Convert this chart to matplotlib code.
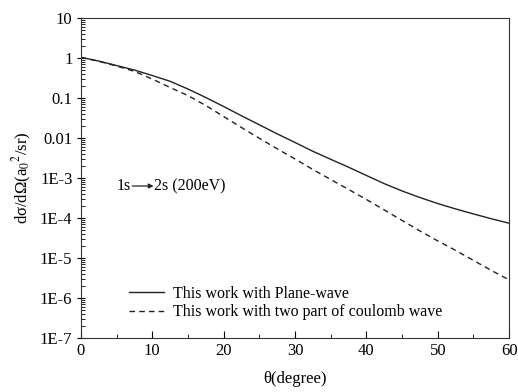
import numpy as np
import matplotlib.pyplot as plt
from matplotlib.ticker import FixedLocator, LogLocator, NullFormatter

plt.rcParams['font.family'] = ['Liberation Serif', 'DejaVu Serif']
plt.rcParams['mathtext.fontset'] = 'stix'

# scattering angle (degree)
theta = [0, 2.5, 5, 7.5, 10, 12.5, 15, 17.5, 20, 22.5, 25, 27.5, 30,
         32.5, 35, 37.5, 40, 42.5, 45, 47.5, 50, 52.5, 55, 57.5, 60]

# 1s -> 2s differential cross sections
plane_wave = [1.04, 0.841, 0.649, 0.501, 0.365, 0.262, 0.168, 0.103, 0.0613,
              0.0359, 0.0214, 0.0127, 7.72e-3, 4.65e-3, 2.93e-3, 1.86e-3,
              1.155e-3, 7.2e-4, 4.73e-4, 3.24e-4, 2.29e-4, 1.68e-4, 1.26e-4,
              9.55e-5, 7.37e-5]
coulomb_wave = [1.04, 0.832, 0.631, 0.465, 0.2985, 0.183, 0.1155, 0.0649,
                0.0345, 0.0183, 9.83e-3, 5.37e-3, 2.985e-3, 1.63e-3, 9.17e-4,
                5.16e-4, 2.90e-4, 1.585e-4, 8.66e-5, 4.73e-5, 2.66e-5,
                1.54e-5, 8.66e-6, 4.87e-6, 2.82e-6]

ytick_vals = [10, 1, 0.1, 0.01, 1e-3, 1e-4, 1e-5, 1e-6, 1e-7]
ytick_labels = ['10', '1', '0.1', '0.01', '1E-3', '1E-4', '1E-5', '1E-6', '1E-7']

fig = plt.figure(figsize=(5.18, 3.92), dpi=100)
ax = fig.add_axes([0.156, 0.138, 0.827, 0.816])

ax.plot(theta, plane_wave, color='#222222', lw=1.0, ls='-',
        label='This work with Plane-wave')
ax.plot(theta, coulomb_wave, color='#222222', lw=1.0, ls=(0, (4, 3)),
        label='This work with two part of coulomb wave')

ax.set_yscale('log')
ax.set_xlim(0, 60)
ax.set_ylim(1e-7, 10)
ax.set_xticks([0, 10, 20, 30, 40, 50, 60])
ax.xaxis.set_minor_locator(FixedLocator([5, 15, 25, 35, 45, 55]))
ax.set_yticks(ytick_vals)
ax.set_yticklabels(ytick_labels)
ax.yaxis.set_minor_locator(LogLocator(base=10, subs=np.arange(2, 10), numticks=20))
ax.yaxis.set_minor_formatter(NullFormatter())

ax.tick_params(axis='x', which='major', direction='in', length=5, labelsize=12)
ax.tick_params(axis='x', which='minor', direction='in', length=3)
ax.tick_params(axis='y', which='major', direction='inout', length=6, labelsize=12, pad=3)
ax.tick_params(axis='y', which='minor', direction='in', length=3)
for s in ax.spines.values():
    s.set_color('#333333')

ax.set_xlabel('θ(degree)', fontsize=12, labelpad=9)
ax.set_ylabel('dσ/dΩ(a$_0$$^{2}$/sr)', fontsize=12, labelpad=4)

# transition label with arrow
ax.text(5.0, 6.3e-4, '1s', fontsize=11.5, va='center', ha='left')
ax.annotate('', xy=(10.2, 6.3e-4), xytext=(7.2, 6.3e-4),
            arrowprops=dict(arrowstyle='-|>', color='#222222', lw=0.9,
                            mutation_scale=7, shrinkA=0, shrinkB=0))
ax.text(10.2, 6.3e-4, '2s (200eV)', fontsize=11.5, va='center', ha='left')

ax.legend(loc='lower left', bbox_to_anchor=(0.078, 0.01), frameon=False,
          fontsize=11.5, handlelength=2.2, handletextpad=0.6, labelspacing=0.15)

fig.savefig('out.png', dpi=100)
